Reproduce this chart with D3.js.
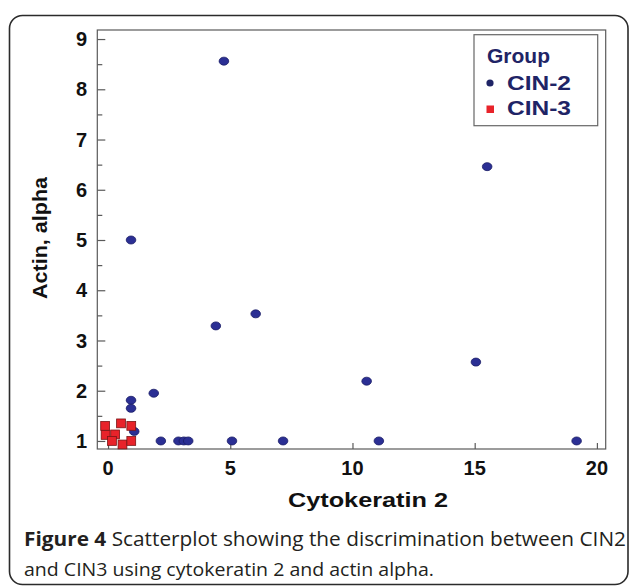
<!DOCTYPE html>
<html><head><meta charset="utf-8">
<script src="https://cdn.jsdelivr.net/npm/d3@7"></script>
<style>html,body{margin:0;padding:0;background:#fff;}</style>
</head><body>
<script>
// ---- data ----
const cin2X = [4.74, 15.51, 0.94, 4.41, 6.04, 15.05, 10.58, 1.87, 0.94, 0.94, 1.07, 2.16, 2.88, 3.10, 3.28, 5.07, 7.16, 11.08, 19.17];
const cin2Y = [8.56, 6.46, 5.00, 3.29, 3.53, 2.57, 2.19, 1.95, 1.81, 1.65, 1.19, 1.00, 1.00, 1.00, 1.00, 1.00, 1.00, 1.00, 1.00];
const cin3X = [-0.12, -0.10, 0.29, 0.16, 0.53, 0.59, 0.95, 0.95];
const cin3Y = [1.30, 1.12, 1.13, 1.00, 1.35, 0.93, 1.30, 1.00];
const xTicks = [0, 5, 10, 15, 20];
const yTicks = [1, 2, 3, 4, 5, 6, 7, 8, 9];
const yMinorTicks = [1.5, 2.5, 3.5, 4.5, 5.5, 6.5, 7.5, 8.5];
const groups = ["CIN-2", "CIN-3"];
const xLabel = "Cytokeratin 2";
const yLabel = "Actin, alpha";
const legendTitle = "Group";
const captionBold = "Figure 4";
const captionLine1 = " Scatterplot showing the discrimination between CIN2";
const captionLine2 = "and CIN3 using cytokeratin 2 and actin alpha.";

const W = 630, H = 586;
const svg = d3.select("body").append("svg").attr("width", W).attr("height", H);
const font = "'Liberation Sans', Arial, sans-serif";

// outer rounded frame
svg.append("rect").attr("x", 9.5).attr("y", 15.5).attr("width", 618.5).attr("height", 569)
  .attr("rx", 13).attr("fill", "none").attr("stroke", "#2b2b2b").attr("stroke-width", 1.6);

const L = 97.3, R = 605.7, T = 30, B = 449;
const x = d3.scaleLinear().domain([-0.44, 20.36]).range([L, R]);
const y = d3.scaleLinear().domain([0.84, 9.18]).range([B, T]);

// plot frame
svg.append("rect").attr("x", L).attr("y", T).attr("width", R - L).attr("height", B - T)
  .attr("fill", "none").attr("stroke", "#5a5a5a").attr("stroke-width", 1.2);

// y axis (ticks pointing inward)
const gy = svg.append("g").attr("transform", `translate(${L},0)`)
  .call(d3.axisRight(y).tickValues(yTicks).tickSize(8).tickFormat(""));
gy.select(".domain").remove();
gy.selectAll("line").attr("stroke", "#5a5a5a").attr("stroke-width", 1.2);
const gy2 = svg.append("g").attr("transform", `translate(${L},0)`)
  .call(d3.axisRight(y).tickValues(yMinorTicks).tickSize(5).tickFormat(""));
gy2.select(".domain").remove();
gy2.selectAll("line").attr("stroke", "#5a5a5a").attr("stroke-width", 1.2);
svg.append("g").selectAll("text").data(yTicks).join("text")
  .attr("x", 87).attr("y", d => y(d)).attr("dy", "0.36em")
  .attr("text-anchor", "end").attr("font-family", font).attr("font-weight", "bold")
  .attr("font-size", 20).attr("fill", "#111").text(d => d);

// x axis (ticks pointing up)
const gx = svg.append("g").attr("transform", `translate(0,${B})`)
  .call(d3.axisTop(x).tickValues(xTicks).tickSize(6).tickFormat(""));
gx.select(".domain").remove();
gx.selectAll("line").attr("stroke", "#5a5a5a").attr("stroke-width", 1.2);
svg.append("g").selectAll("text").data(xTicks).join("text")
  .attr("x", d => x(d)).attr("y", 475)
  .attr("text-anchor", "middle").attr("font-family", font).attr("font-weight", "bold")
  .attr("font-size", 20).attr("fill", "#111").text(d => d);

// axis titles
svg.append("text").attr("transform", `translate(47,238) rotate(-90)`)
  .attr("text-anchor", "middle").attr("font-family", font).attr("font-weight", "bold")
  .attr("font-size", 20).attr("fill", "#111")
  .attr("textLength", 122).attr("lengthAdjust", "spacingAndGlyphs").text(yLabel);
svg.append("text").attr("x", 368).attr("y", 507)
  .attr("text-anchor", "middle").attr("font-family", font).attr("font-weight", "bold")
  .attr("font-size", 20).attr("fill", "#111")
  .attr("textLength", 160).attr("lengthAdjust", "spacingAndGlyphs").text(xLabel);

// points
const cin2 = cin2X.map((d, i) => ({x: d, y: cin2Y[i]}));
const cin3 = cin3X.map((d, i) => ({x: d, y: cin3Y[i]}));
svg.append("g").selectAll("ellipse").data(cin2).join("ellipse")
  .attr("cx", d => x(d.x)).attr("cy", d => y(d.y)).attr("rx", 4.8).attr("ry", 4)
  .attr("fill", "#2b2f94").attr("stroke", "#1b1d66").attr("stroke-width", 0.8);
svg.append("g").selectAll("rect").data(cin3).join("rect")
  .attr("x", d => x(d.x) - 4.4).attr("y", d => y(d.y) - 4.4).attr("width", 8.8).attr("height", 8.8)
  .attr("fill", "#e8232a").attr("stroke", "#7a1414").attr("stroke-width", 0.8);

// legend
svg.append("rect").attr("x", 474).attr("y", 34.7).attr("width", 123.7).attr("height", 91)
  .attr("fill", "#fff").attr("stroke", "#666").attr("stroke-width", 1.2);
const navy = "#1f2466";
svg.append("text").attr("x", 487).attr("y", 63).attr("font-family", font).attr("font-weight", "bold")
  .attr("font-size", 21).attr("fill", navy).text(legendTitle);
svg.append("circle").attr("cx", 490).attr("cy", 83).attr("r", 3.6).attr("fill", navy);
svg.append("rect").attr("x", 486.5).attr("y", 105.5).attr("width", 7.5).attr("height", 7.5).attr("fill", "#e8232a");
svg.append("g").selectAll("text").data(groups).join("text")
  .attr("x", 507).attr("y", (d, i) => 90 + i * 24.5)
  .attr("font-family", font).attr("font-weight", "bold").attr("font-size", 21)
  .attr("textLength", 64).attr("lengthAdjust", "spacingAndGlyphs")
  .attr("fill", navy).text(d => d);

// caption
const cfont = "'Open Sans', 'Noto Sans', sans-serif";
const c1 = svg.append("text").attr("x", 24).attr("y", 546).attr("font-family", cfont)
  .attr("font-size", 20).attr("fill", "#231f20")
  .attr("textLength", 602).attr("lengthAdjust", "spacingAndGlyphs");
c1.append("tspan").attr("font-weight", "bold").text(captionBold);
c1.append("tspan").text(captionLine1);
svg.append("text").attr("x", 24).attr("y", 576).attr("font-family", cfont)
  .attr("font-size", 19).attr("fill", "#231f20")
  .attr("textLength", 410).attr("lengthAdjust", "spacingAndGlyphs").text(captionLine2);
</script>
</body></html>
